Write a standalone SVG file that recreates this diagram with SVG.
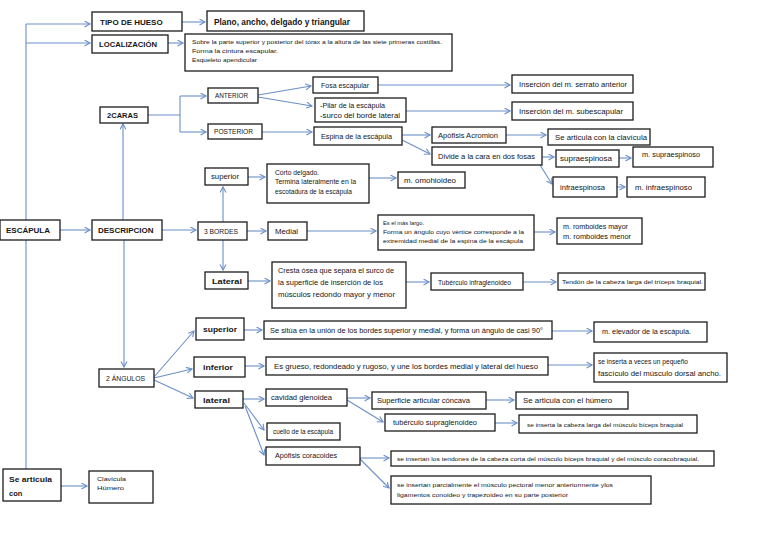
<svg xmlns="http://www.w3.org/2000/svg" width="768" height="544" viewBox="0 0 768 544">
<defs>
<marker id="ah" markerUnits="userSpaceOnUse" markerWidth="9" markerHeight="9" refX="6" refY="3.5" orient="auto">
<path d="M0.5,0.5 L6,3.5 L0.5,6.5" fill="none" stroke="#6a8fc8" stroke-width="1.1"/>
</marker>
<style>
.b{fill:#fff;stroke:#1c1c1c;stroke-width:1.3}
text{font-family:"Liberation Sans",Arial,sans-serif;fill:#151515}
.t5{font-size:6px}
.t6{font-size:6.8px}
.t7{font-size:7.5px}
.h{font-size:8px;font-weight:bold}
.c path{fill:none;stroke:#6a8fc8;stroke-width:1.1}
.a{marker-end:url(#ah)}
</style>
</defs>
<rect width="768" height="544" fill="#fff"/>

<g class="c" id="connectors">
<path d="M26 24 V220 M26 240 V469"/>
<path class="a" d="M26 24 H90"/>
<path class="a" d="M26 43 H90"/>
<path class="a" d="M182 22 H205"/>
<path class="a" d="M168 43 H183"/>
<path class="a" d="M60 230 H90"/>
<path class="a" d="M123 220 V124"/>
<path class="a" d="M124 240 V367"/>
<path d="M148 115 H180 M180 96 V132"/>
<path class="a" d="M180 96 H206"/>
<path class="a" d="M180 132 H206"/>
<path class="a" d="M258 95 L311 86"/>
<path class="a" d="M258 97 L312 106"/>
<path class="a" d="M262 132 H312"/>
<path class="a" d="M378 85 H510"/>
<path class="a" d="M406 111 H510"/>
<path class="a" d="M402 135 H430"/>
<path class="a" d="M402 140 L430 154"/>
<path class="a" d="M506 135 H546"/>
<path class="a" d="M542 157 H554"/>
<path class="a" d="M540 165 L552 184"/>
<path class="a" d="M619 158 H631"/>
<path class="a" d="M617 187 H625"/>
<path class="a" d="M162 230 H196"/>
<path class="a" d="M223 222 V187"/>
<path class="a" d="M223 240 V270"/>
<path class="a" d="M247 231 H266"/>
<path class="a" d="M307 231 H376"/>
<path class="a" d="M534 232 H555"/>
<path class="a" d="M248 177 H265"/>
<path class="a" d="M369 178 H396"/>
<path class="a" d="M248 281 H270"/>
<path class="a" d="M406 282 H429"/>
<path class="a" d="M523 282 H556"/>
<path class="a" d="M154 377 L194 331"/>
<path class="a" d="M154 378 L192 369"/>
<path class="a" d="M154 380 L193 398"/>
<path class="a" d="M244 330 H262"/>
<path class="a" d="M552 331 H592"/>
<path class="a" d="M245 366 H264"/>
<path class="a" d="M548 365 H592"/>
<path class="a" d="M243 399 H264"/>
<path class="a" d="M244 403 L264 430"/>
<path class="a" d="M245 406 L264 455"/>
<path class="a" d="M347 398 H370"/>
<path class="a" d="M347 400 L383 422"/>
<path class="a" d="M486 400 H514"/>
<path class="a" d="M495 423 H517"/>
<path class="a" d="M360 458 H389"/>
<path class="a" d="M360 459 L389 488"/>
<path class="a" d="M61 486 H87"/>
</g>

<g id="n_tipo"><rect class="b" x="92" y="12" width="90" height="19"/><text class="h" x="100" y="25">TIPO DE HUESO</text></g>
<g id="n_plano"><rect class="b" x="207" y="11" width="157" height="20"/><text class="h" x="214" y="25" style="font-size:9px" textLength="136" lengthAdjust="spacingAndGlyphs">Plano, ancho, delgado y triangular</text></g>
<g id="n_loc"><rect class="b" x="92" y="35" width="76" height="18"/><text class="h" x="99" y="47" textLength="58" lengthAdjust="spacingAndGlyphs">LOCALIZACIÓN</text></g>
<g id="n_loctext"><rect class="b" x="185" y="34" width="267" height="37"/>
<text class="t5" x="192" y="44" textLength="250" lengthAdjust="spacingAndGlyphs">Sobre la parte superior y posterior del tórax a la altura de las siete primeras costillas.</text>
<text class="t5" x="192" y="53" textLength="86" lengthAdjust="spacingAndGlyphs">Forma la cintura escapular.</text>
<text class="t5" x="192" y="62" textLength="65" lengthAdjust="spacingAndGlyphs">Esqueleto apendicular</text></g>

<g id="n_2caras"><rect class="b" x="100" y="107" width="48" height="16"/><text class="t7" x="107" y="118" style="font-weight:bold" textLength="31" lengthAdjust="spacingAndGlyphs">2CARAS</text></g>
<g id="n_anterior"><rect class="b" x="208" y="88" width="50" height="15"/><text class="t6" x="215" y="98" textLength="33" lengthAdjust="spacingAndGlyphs">ANTERIOR</text></g>
<g id="n_posterior"><rect class="b" x="208" y="124" width="54" height="15"/><text class="t6" x="214" y="134" textLength="39" lengthAdjust="spacingAndGlyphs">POSTERIOR</text></g>
<g id="n_fosa"><rect class="b" x="313" y="77" width="65" height="16"/><text class="t6" x="321" y="88" textLength="48" lengthAdjust="spacingAndGlyphs">Fosa escapular</text></g>
<g id="n_pilar"><rect class="b" x="315" y="98" width="91" height="24"/><text class="t6" x="320" y="108" textLength="65" lengthAdjust="spacingAndGlyphs">-Pilar de la escápula</text><text class="t6" x="320" y="118" textLength="80" lengthAdjust="spacingAndGlyphs">-surco del borde lateral</text></g>
<g id="n_espina"><rect class="b" x="314" y="127" width="88" height="18"/><text class="t6" x="321" y="139" textLength="71" lengthAdjust="spacingAndGlyphs">Espina de la escápula</text></g>
<g id="n_serrato"><rect class="b" x="512" y="75" width="121" height="18"/><text class="t6" x="519" y="87" textLength="108" lengthAdjust="spacingAndGlyphs">Inserción del m. serrato anterior</text></g>
<g id="n_subesc"><rect class="b" x="512" y="102" width="121" height="18"/><text class="t6" x="519" y="114" textLength="104" lengthAdjust="spacingAndGlyphs">Inserción del m. subescapular</text></g>
<g id="n_acromion"><rect class="b" x="432" y="127" width="74" height="16"/><text class="t6" x="438" y="138" textLength="60" lengthAdjust="spacingAndGlyphs">Apófisis Acromion</text></g>
<g id="n_clavicula"><rect class="b" x="548" y="129" width="102" height="16"/><text class="t6" x="555" y="140" textLength="92" lengthAdjust="spacingAndGlyphs">Se articula con la clavícula</text></g>
<g id="n_divide"><rect class="b" x="432" y="147" width="110" height="18"/><text class="t6" x="438" y="159" textLength="97" lengthAdjust="spacingAndGlyphs">Divide a la cara en dos fosas</text></g>
<g id="n_supra"><rect class="b" x="556" y="150" width="63" height="17"/><text class="t6" x="560" y="161" textLength="52" lengthAdjust="spacingAndGlyphs">supraespinosa</text></g>
<g id="n_msupra"><rect class="b" x="633" y="147" width="80" height="20"/><text class="t6" x="642" y="157" textLength="58" lengthAdjust="spacingAndGlyphs">m. supraespinoso</text></g>
<g id="n_infra"><rect class="b" x="553" y="177" width="64" height="20"/><text class="t6" x="560" y="190" textLength="45" lengthAdjust="spacingAndGlyphs">infraespinosa</text></g>
<g id="n_minfra"><rect class="b" x="627" y="177" width="78" height="20"/><text class="t6" x="635" y="190" textLength="57" lengthAdjust="spacingAndGlyphs">m. infraespinoso</text></g>

<g id="n_esc"><rect class="b" x="0" y="220" width="60" height="20"/><text class="h" x="6" y="233">ESCÁPULA</text></g>
<g id="n_desc"><rect class="b" x="92" y="220" width="70" height="20"/><text class="h" x="98" y="233">DESCRIPCION</text></g>

<g id="n_bsup"><rect class="b" x="205" y="168" width="43" height="17"/><text class="t6" x="211" y="179" textLength="28" lengthAdjust="spacingAndGlyphs">superior</text></g>
<g id="n_corto"><rect class="b" x="267" y="164" width="102" height="39"/>
<text class="t5" x="275" y="175" style="font-size:6.4px" textLength="44" lengthAdjust="spacingAndGlyphs">Corto delgado.</text>
<text class="t5" x="275" y="184" style="font-size:6.4px" textLength="81" lengthAdjust="spacingAndGlyphs">Termina lateralmente en la</text>
<text class="t5" x="275" y="194" style="font-size:6.4px" textLength="77" lengthAdjust="spacingAndGlyphs">escotadura de la escápula</text></g>
<g id="n_omo"><rect class="b" x="398" y="172" width="67" height="16"/><text class="t6" x="404" y="183" textLength="52" lengthAdjust="spacingAndGlyphs">m. omohioideo</text></g>
<g id="n_3bordes"><rect class="b" x="198" y="222" width="49" height="18"/><text class="t6" x="204" y="234" textLength="34" lengthAdjust="spacingAndGlyphs">3 BORDES</text></g>
<g id="n_medial"><rect class="b" x="268" y="222" width="39" height="18"/><text class="t6" x="275" y="234" textLength="23" lengthAdjust="spacingAndGlyphs">Medial</text></g>
<g id="n_largo"><rect class="b" x="378" y="215" width="156" height="35"/>
<text class="t5" x="383" y="225" textLength="41" lengthAdjust="spacingAndGlyphs">Es el más largo.</text>
<text class="t5" x="383" y="234" textLength="141" lengthAdjust="spacingAndGlyphs">Forma un ángulo cuyo vértice corresponde a la</text>
<text class="t5" x="383" y="243" textLength="140" lengthAdjust="spacingAndGlyphs">extremidad medial de la espina de la escápula</text></g>
<g id="n_romb"><rect class="b" x="557" y="218" width="85" height="26"/><text class="t6" x="563" y="229" textLength="65" lengthAdjust="spacingAndGlyphs">m. romboides mayor</text><text class="t6" x="563" y="239" textLength="68" lengthAdjust="spacingAndGlyphs">m. romboides menor</text></g>
<g id="n_blat"><rect class="b" x="205" y="272" width="43" height="17"/><text class="t6" x="212" y="284" style="font-weight:bold" textLength="30" lengthAdjust="spacingAndGlyphs">Lateral</text></g>
<g id="n_cresta"><rect class="b" x="272" y="262" width="134" height="46"/>
<text class="t6" x="278" y="273" style="font-size:7px" textLength="116" lengthAdjust="spacingAndGlyphs">Cresta ósea que separa el surco de</text>
<text class="t6" x="278" y="285" style="font-size:7px" textLength="105" lengthAdjust="spacingAndGlyphs">la superficie de inserción de los</text>
<text class="t6" x="278" y="297" style="font-size:7px" textLength="117" lengthAdjust="spacingAndGlyphs">músculos redondo mayor y menor</text></g>
<g id="n_tubinf"><rect class="b" x="431" y="273" width="92" height="17"/><text class="t6" x="438" y="285" style="font-size:7.2px" textLength="73" lengthAdjust="spacingAndGlyphs">Tubérculo infraglenoideo</text></g>
<g id="n_tendon"><rect class="b" x="558" y="273" width="147" height="17"/><text class="t5" x="562" y="284" textLength="141" lengthAdjust="spacingAndGlyphs">Tendón de la cabeza larga del tríceps braquial.</text></g>

<g id="n_2ang"><rect class="b" x="99" y="369" width="55" height="18"/><text class="t6" x="106" y="381" textLength="39" lengthAdjust="spacingAndGlyphs">2 ÁNGULOS</text></g>
<g id="n_asup"><rect class="b" x="196" y="318" width="48" height="22"/><text class="h" x="203" y="332" textLength="34" lengthAdjust="spacingAndGlyphs">superior</text></g>
<g id="n_ainf"><rect class="b" x="194" y="357" width="51" height="20"/><text class="h" x="203" y="370" textLength="30" lengthAdjust="spacingAndGlyphs">inferior</text></g>
<g id="n_alat"><rect class="b" x="195" y="391" width="48" height="17"/><text class="h" x="203" y="403" textLength="27" lengthAdjust="spacingAndGlyphs">lateral</text></g>
<g id="n_situa"><rect class="b" x="264" y="321" width="288" height="18"/><text class="t6" x="270" y="333" textLength="273" lengthAdjust="spacingAndGlyphs">Se sitúa en la unión de los bordes superior y medial, y forma un ángulo de casi 90°</text></g>
<g id="n_elev"><rect class="b" x="594" y="322" width="113" height="20"/><text class="t6" x="602" y="334" textLength="89" lengthAdjust="spacingAndGlyphs">m. elevador de la escápula.</text></g>
<g id="n_grueso"><rect class="b" x="266" y="357" width="282" height="18"/><text class="t6" x="274" y="369" textLength="264" lengthAdjust="spacingAndGlyphs">Es grueso, redondeado y rugoso, y une los bordes medial y lateral del hueso</text></g>
<g id="n_veces"><rect class="b" x="594" y="353" width="133" height="29"/><text class="t6" x="598" y="364" textLength="90" lengthAdjust="spacingAndGlyphs">se inserta a veces un pequeño</text><text class="t6" x="598" y="376" textLength="123" lengthAdjust="spacingAndGlyphs">fascículo del músculo dorsal ancho.</text></g>
<g id="n_cav"><rect class="b" x="266" y="389" width="81" height="17"/><text class="t6" x="271" y="400" textLength="61" lengthAdjust="spacingAndGlyphs">cavidad glenoidea</text></g>
<g id="n_sup_art"><rect class="b" x="372" y="392" width="114" height="17"/><text class="t6" x="377" y="403" textLength="93" lengthAdjust="spacingAndGlyphs">Superficie articular cóncava</text></g>
<g id="n_humero"><rect class="b" x="516" y="392" width="112" height="17"/><text class="t6" x="523" y="403" textLength="89" lengthAdjust="spacingAndGlyphs">Se articula con el húmero</text></g>
<g id="n_tubsup"><rect class="b" x="385" y="414" width="110" height="17"/><text class="t6" x="393" y="425" textLength="84" lengthAdjust="spacingAndGlyphs">tubérculo supraglenoideo</text></g>
<g id="n_cablarga"><rect class="b" x="519" y="415" width="178" height="18"/><text class="t5" x="527" y="427" textLength="156" lengthAdjust="spacingAndGlyphs">se inserta la cabeza larga del músculo bíceps braquial</text></g>
<g id="n_cuello"><rect class="b" x="267" y="423" width="73" height="17"/><text class="t6" x="273" y="434" textLength="60" lengthAdjust="spacingAndGlyphs">cuello de la escápula</text></g>
<g id="n_corac"><rect class="b" x="266" y="447" width="94" height="18"/><text class="t6" x="275" y="458" textLength="62" lengthAdjust="spacingAndGlyphs">Apófisis coracoides</text></g>
<g id="n_tendones"><rect class="b" x="391" y="451" width="323" height="15"/><text class="t5" x="397" y="461" textLength="302" lengthAdjust="spacingAndGlyphs">se insertan los tendones de la cabeza corta del músculo bíceps braquial y del músculo coracobraquial.</text></g>
<g id="n_parc"><rect class="b" x="391" y="476" width="260" height="28"/><text class="t5" x="397" y="487" textLength="216" lengthAdjust="spacingAndGlyphs">se insertan parcialmente el músculo pectoral menor anteriormente ylos</text><text class="t5" x="397" y="497" textLength="171" lengthAdjust="spacingAndGlyphs">ligamentos conoideo y trapezoideo en su parte posterior</text></g>

<g id="n_searticula"><rect class="b" x="3" y="469" width="58" height="32"/><text class="t7" x="9" y="482" style="font-weight:bold" textLength="43" lengthAdjust="spacingAndGlyphs">Se articula</text><text class="t7" x="9" y="496" style="font-weight:bold">con</text></g>
<g id="n_clavhum"><rect class="b" x="89" y="471" width="64" height="32"/><text class="t5" x="97" y="481" textLength="29" lengthAdjust="spacingAndGlyphs">Clavícula</text><text class="t5" x="97" y="490" textLength="27" lengthAdjust="spacingAndGlyphs">Húmero</text></g>
</svg>
